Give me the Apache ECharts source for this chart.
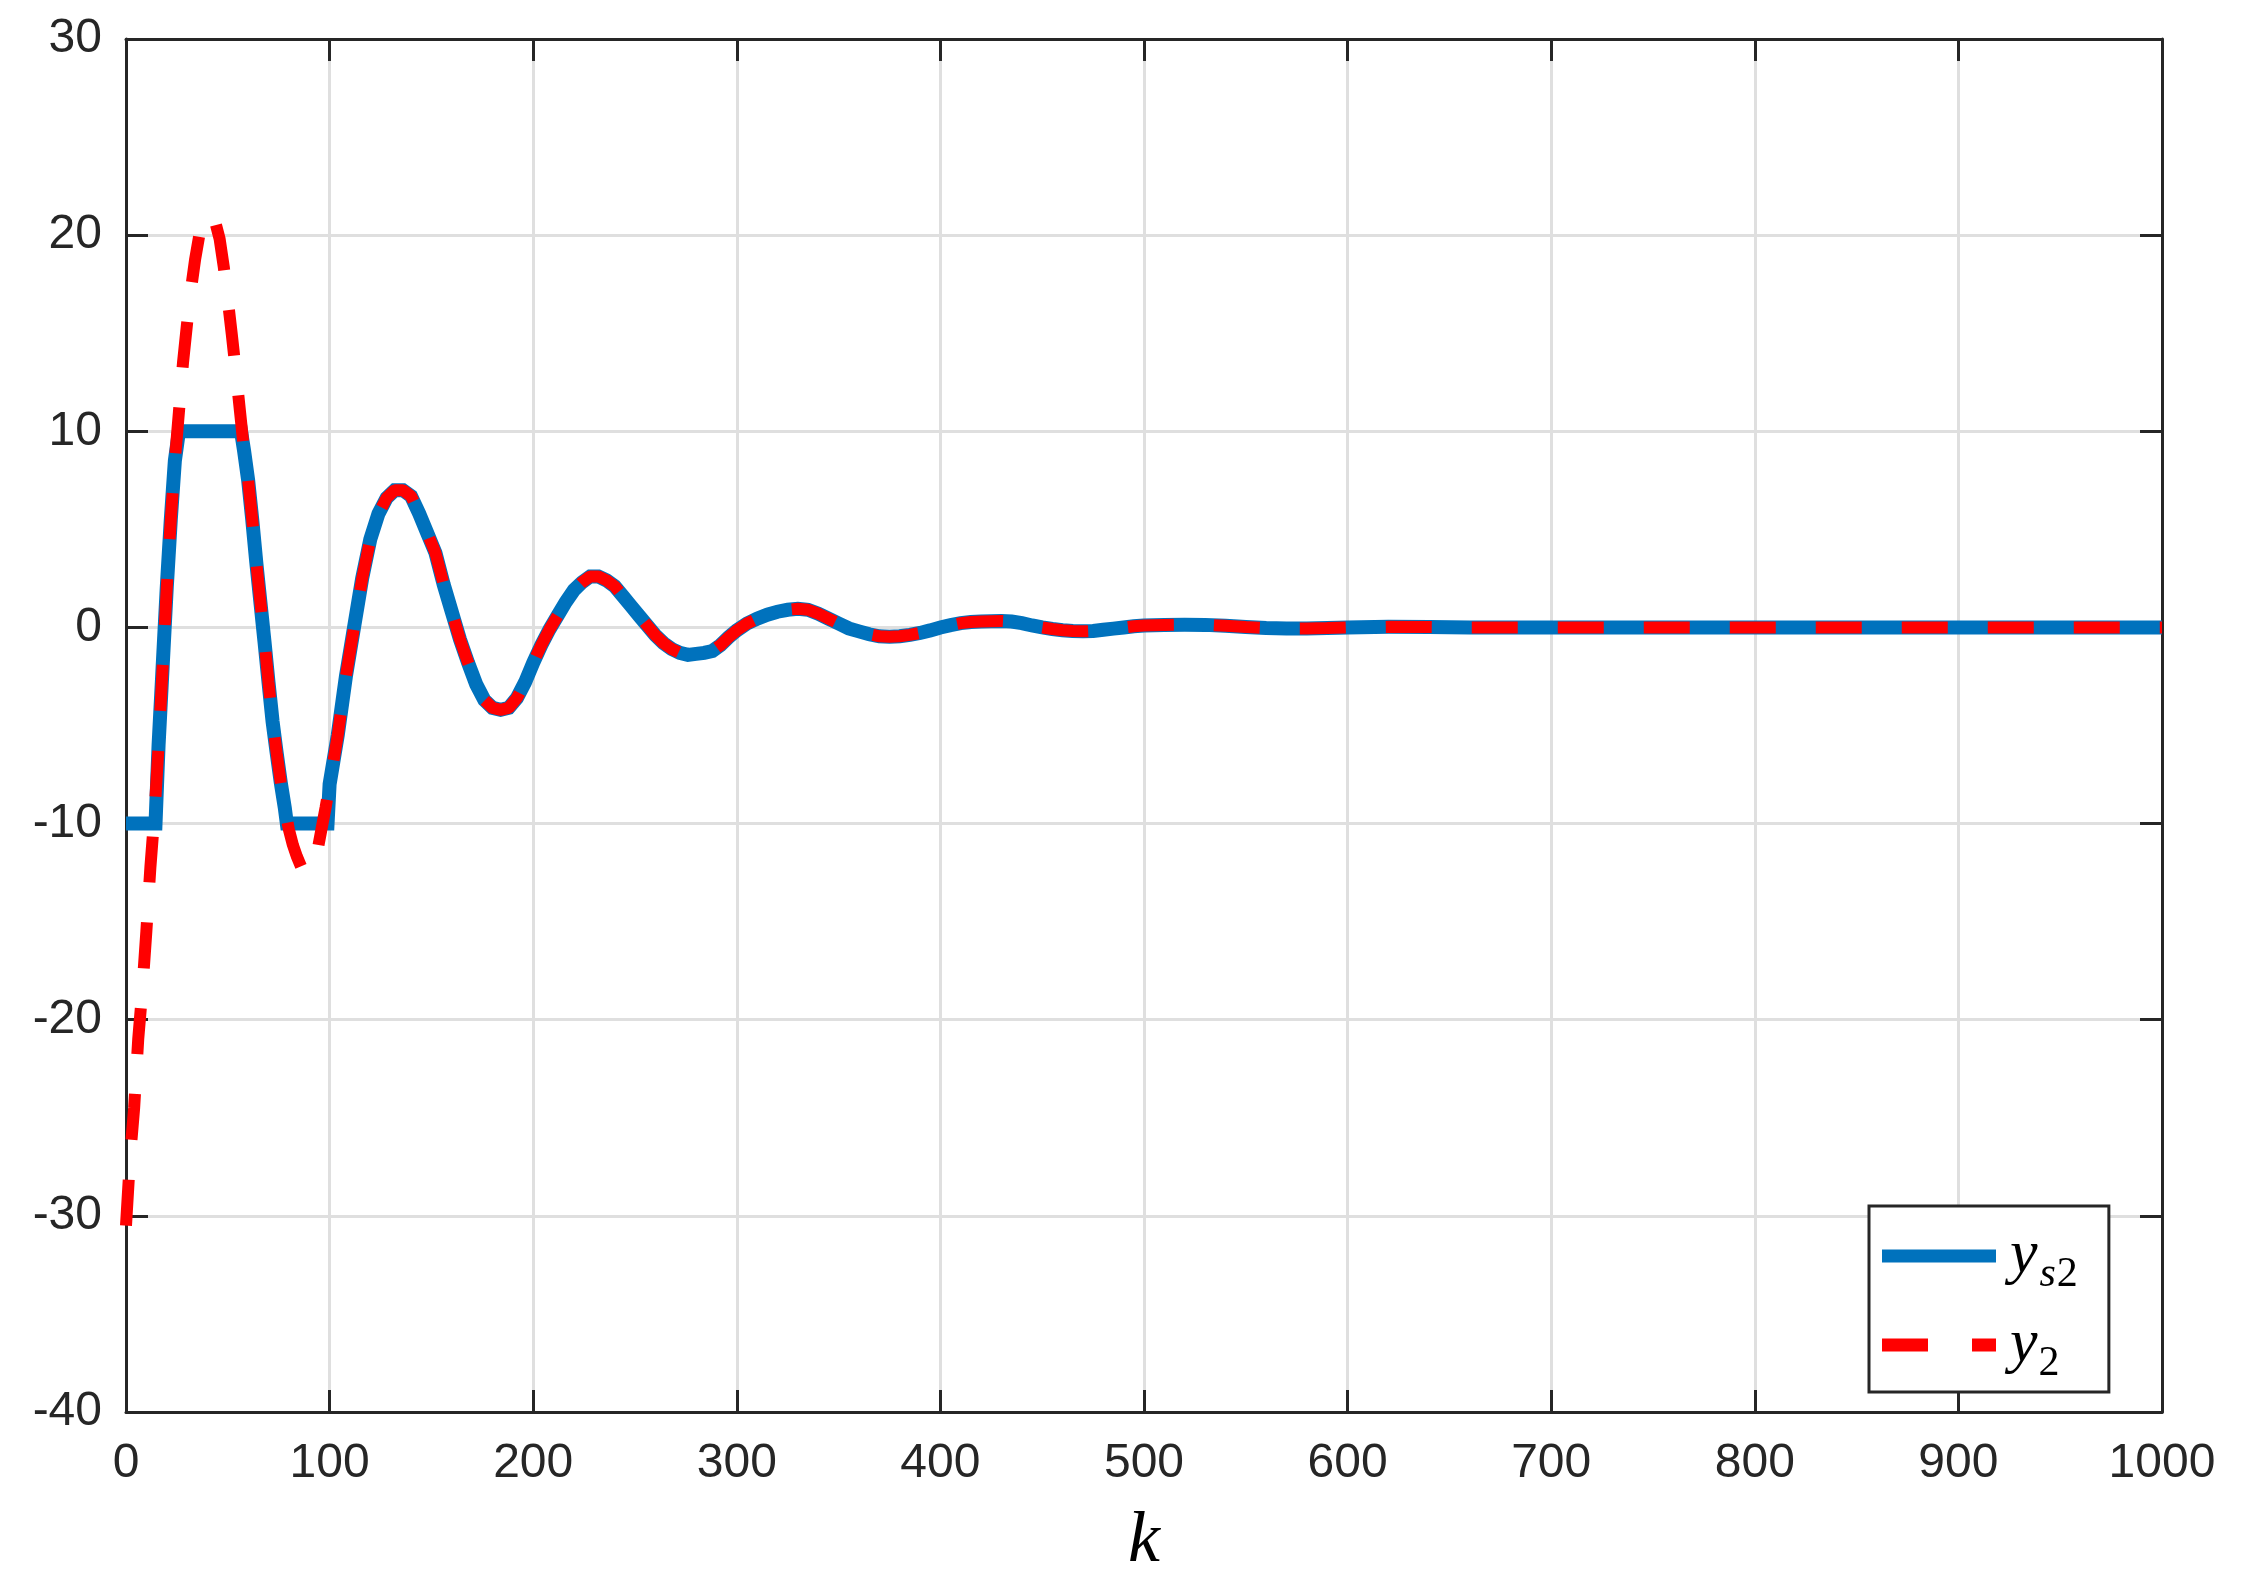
<!DOCTYPE html>
<html>
<head>
<meta charset="utf-8">
<title>y_s2 and y_2</title>
<script src="https://cdn.jsdelivr.net/npm/echarts@6/dist/echarts.min.js"></script>
<style>
  html, body { margin: 0; padding: 0; background: #fff; }
  #main { width: 2254px; height: 1583px; }
</style>
</head>
<body>
<div id="main"></div>
<script>
// k samples and values
var kY2 = [0, 2, 4, 6, 8, 10, 12, 14, 16, 18, 20, 22, 24, 26, 28, 30, 32, 34, 36, 38,
  40, 42, 44, 46, 48, 50, 52, 54, 56, 58, 60, 62, 64, 66, 68, 70, 72, 74, 76, 78,
  80, 82, 84, 86, 88, 90, 92, 94, 96, 98, 100, 104, 108, 112, 116, 120, 124, 128, 132, 136,
  140, 144, 148, 152, 156, 160, 164, 168, 172, 176, 180, 184, 188, 192, 196, 200, 204, 208, 212, 216,
  220, 224, 228, 232, 236, 240, 244, 248, 252, 256, 260, 264, 268, 272, 276, 280, 284, 288, 292, 296,
  300, 305, 310, 315, 320, 325, 330, 335, 340, 345, 350, 355, 360, 365, 370, 375, 380, 385, 390, 395,
  400, 405, 410, 415, 420, 425, 430, 435, 440, 445, 450, 455, 460, 465, 470, 475, 480, 485, 490, 495,
  500, 510, 520, 530, 540, 550, 560, 570, 580, 590, 600, 620, 640, 660, 680, 700, 750, 800, 850, 900, 950, 1000];
var y2 = [-30.5, -27, -24.5, -21, -18.5, -15.5, -12.2, -9.5, -6, -2, 2, 5.5, 8.5, 11, 13.5, 15.5, 17.3, 18.8, 20, 20.8,
  21.1, 21, 20.6, 19.8, 18.4, 16.7, 14.9, 13, 11, 9, 7.5, 5.5, 3.3, 1.3, -0.7, -2.8, -4.8, -6.4, -7.9, -9.2,
  -10.3, -11.1, -11.7, -12.2, -12.4, -12.5, -12.2, -11.4, -10.3, -9.2, -8, -5.5, -2.5, 0, 2.5, 4.5, 5.8, 6.6, 7, 7,
  6.7, 5.8, 4.8, 3.8, 2.2, 0.8, -0.6, -1.8, -2.9, -3.7, -4.1, -4.2, -4.1, -3.6, -2.8, -1.8, -0.9, -0.1, 0.6, 1.3,
  1.9, 2.3, 2.6, 2.6, 2.4, 2.1, 1.6, 1.1, 0.6, 0.1, -0.4, -0.8, -1.1, -1.3, -1.4, -1.35, -1.3, -1.2, -0.9, -0.5,
  -0.15, 0.2, 0.45, 0.65, 0.8, 0.9, 0.95, 0.9, 0.7, 0.45, 0.2, -0.05, -0.2, -0.35, -0.45, -0.48, -0.45, -0.38, -0.28, -0.15,
  0, 0.12, 0.22, 0.28, 0.3, 0.32, 0.33, 0.3, 0.22, 0.1, 0, -0.08, -0.14, -0.18, -0.2, -0.18, -0.12, -0.06, 0, 0.06,
  0.1, 0.13, 0.14, 0.13, 0.08, 0.02, -0.03, -0.05, -0.05, -0.03, 0, 0.03, 0.02, 0, -0.01, 0, 0, 0, 0, 0, 0, 0];

var kYs2 = [0, 14.5, 16, 18, 20, 22, 24, 26, 27.5, 56.5, 58, 60, 62, 64, 66, 68, 70, 72, 74, 76, 78,
  79, 99, 100, 104, 108, 112, 116, 120, 124, 128, 132, 136,
  140, 144, 148, 152, 156, 160, 164, 168, 172, 176, 180, 184, 188, 192, 196, 200, 204, 208, 212, 216,
  220, 224, 228, 232, 236, 240, 244, 248, 252, 256, 260, 264, 268, 272, 276, 280, 284, 288, 292, 296,
  300, 305, 310, 315, 320, 325, 330, 335, 340, 345, 350, 355, 360, 365, 370, 375, 380, 385, 390, 395,
  400, 405, 410, 415, 420, 425, 430, 435, 440, 445, 450, 455, 460, 465, 470, 475, 480, 485, 490, 495,
  500, 510, 520, 530, 540, 550, 560, 570, 580, 590, 600, 620, 640, 660, 680, 700, 750, 800, 850, 900, 950, 1000];
var ys2 = [-10, -10, -6, -2, 2, 5.5, 8.5, 10, 10, 10, 9, 7.5, 5.5, 3.3, 1.3, -0.7, -2.8, -4.8, -6.4, -7.9, -9.2,
  -10, -10, -8, -5.5, -2.5, 0, 2.5, 4.5, 5.8, 6.6, 7, 7,
  6.7, 5.8, 4.8, 3.8, 2.2, 0.8, -0.6, -1.8, -2.9, -3.7, -4.1, -4.2, -4.1, -3.6, -2.8, -1.8, -0.9, -0.1, 0.6, 1.3,
  1.9, 2.3, 2.6, 2.6, 2.4, 2.1, 1.6, 1.1, 0.6, 0.1, -0.4, -0.8, -1.1, -1.3, -1.4, -1.35, -1.3, -1.2, -0.9, -0.5,
  -0.15, 0.2, 0.45, 0.65, 0.8, 0.9, 0.95, 0.9, 0.7, 0.45, 0.2, -0.05, -0.2, -0.35, -0.45, -0.48, -0.45, -0.38, -0.28, -0.15,
  0, 0.12, 0.22, 0.28, 0.3, 0.32, 0.33, 0.3, 0.22, 0.1, 0, -0.08, -0.14, -0.18, -0.2, -0.18, -0.12, -0.06, 0, 0.06,
  0.1, 0.13, 0.14, 0.13, 0.08, 0.02, -0.03, -0.05, -0.05, -0.03, 0, 0.03, 0.02, 0, -0.01, 0, 0, 0, 0, 0, 0, 0];

var xTicks = [0, 1000, 100];   // min, max, step
var yTicks = [-40, 30, 10];

function pairs(ks, vs) {
  var out = [];
  for (var i = 0; i < ks.length; i++) out.push([ks[i], vs[i]]);
  return out;
}

var chartDom = document.getElementById("main");
var myChart = echarts.init(chartDom);
var option;

var axisCol = "#262626";
var tickFont = { color: axisCol, fontSize: 48, fontFamily: "Liberation Sans, Arial, sans-serif" };
var mathFont = "Liberation Serif, Times New Roman, serif";

function boxAxis(extra) {
  return Object.assign({
    type: "value",
    axisLine: { show: true, onZero: false, lineStyle: { color: axisCol, width: 3 } },
    axisTick: { show: true, inside: true, length: 22, lineStyle: { color: axisCol, width: 3 } },
    splitLine: { show: false },
    axisLabel: { show: false }
  }, extra);
}

option = {
  animation: false,
  backgroundColor: "#fff",
  grid: { left: 126, right: 92, top: 39, bottom: 171 },
  xAxis: [
    boxAxis({
      position: "bottom",
      min: xTicks[0], max: xTicks[1], interval: xTicks[2],
      axisLabel: Object.assign({ show: true, margin: 28, formatter: function (v) { return String(v); } }, tickFont),
      splitLine: { show: true, lineStyle: { color: "#dfdfdf", width: 3 } },
      name: "k",
      nameLocation: "middle",
      nameGap: 94,
      nameTextStyle: { fontFamily: mathFont, fontStyle: "italic", fontSize: 72, color: "#000" }
    }),
    boxAxis({ position: "top", min: xTicks[0], max: xTicks[1], interval: xTicks[2] })
  ],
  yAxis: [
    boxAxis({
      position: "left",
      min: yTicks[0], max: yTicks[1], interval: yTicks[2],
      axisLabel: Object.assign({ show: true, margin: 24 }, tickFont),
      splitLine: { show: true, lineStyle: { color: "#dfdfdf", width: 3 } }
    }),
    boxAxis({ position: "right", min: yTicks[0], max: yTicks[1], interval: yTicks[2] })
  ],
  legend: {
    orient: "vertical",
    left: 1869,
    top: 1206,
    padding: [10, 31, 7, 13],
    itemGap: 9,
    itemWidth: 114,
    itemHeight: 13,
    borderColor: axisCol,
    borderWidth: 3,
    borderRadius: 0,
    backgroundColor: "#fff",
    data: [
      { name: "ys2", icon: "path://M0,0h114v13h-114z" },
      { name: "y2", icon: "path://M0,0h46v13h-46z M90,0h24v13h-24z" }
    ],
    formatter: function (name) {
      return name === "ys2" ? "{v|y}{s|s}{d|2}" : "{v|y}{d|2}";
    },
    textStyle: {
      padding: [0, 0, 0, 9],
      rich: {
        v: { fontFamily: mathFont, fontStyle: "italic", fontSize: 62, lineHeight: 64, color: "#000" },
        s: { fontFamily: mathFont, fontStyle: "italic", fontSize: 42, lineHeight: 26, padding: [38, 0, 0, 2], color: "#000" },
        d: { fontFamily: mathFont, fontSize: 42, lineHeight: 26, padding: [38, 0, 0, 1], color: "#000" }
      }
    }
  },
  series: [
    {
      name: "ys2",
      type: "line",
      data: pairs(kYs2, ys2),
      showSymbol: false,
      symbol: "none",
      lineStyle: { color: "#0072BD", width: 14, cap: "butt", join: "miter" },
      itemStyle: { color: "#0072BD" },
      z: 2
    },
    {
      name: "y2",
      type: "line",
      data: pairs(kY2, y2),
      showSymbol: false,
      symbol: "none",
      lineStyle: { color: "#FF0000", width: 12, type: [46, 40], cap: "butt" },
      itemStyle: { color: "#FF0000" },
      z: 3
    }
  ]
};

option && myChart.setOption(option);
</script>
</body>
</html>
